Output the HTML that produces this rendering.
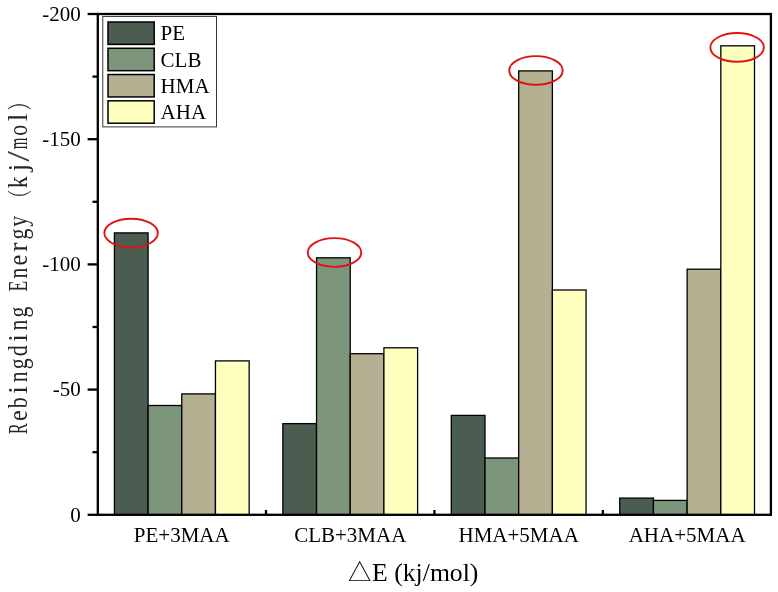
<!DOCTYPE html>
<html lang="en"><head><meta charset="utf-8"><title>Rebinding Energy chart</title>
<style>html,body{margin:0;padding:0;background:#fff}svg{display:block}text{font-family:"Liberation Serif","Noto Serif CJK SC",serif;fill:#000}.t{font-size:21px}.yl{font-size:26.3px;fill:#262626}.sl{font-size:32px;fill:#444}.pw{font-size:25px;font-family:"Noto Serif CJK SC",serif}</style></head><body>
<svg width="778" height="592" viewBox="0 0 778 592">
<rect x="0" y="0" width="778" height="592" fill="#fff"/>
<g stroke="#000" stroke-width="2.3" fill="none">
<line x1="265.98" y1="514.80" x2="265.98" y2="510.00"/>
<line x1="434.43" y1="514.80" x2="434.43" y2="510.00"/>
<line x1="602.88" y1="514.80" x2="602.88" y2="510.00"/>
<line x1="87.60" y1="514.80" x2="97.80" y2="514.80"/>
<line x1="92.50" y1="452.20" x2="97.80" y2="452.20"/>
<line x1="87.60" y1="389.60" x2="97.80" y2="389.60"/>
<line x1="92.50" y1="327.00" x2="97.80" y2="327.00"/>
<line x1="87.60" y1="264.40" x2="97.80" y2="264.40"/>
<line x1="92.50" y1="201.80" x2="97.80" y2="201.80"/>
<line x1="87.60" y1="139.20" x2="97.80" y2="139.20"/>
<line x1="92.50" y1="76.60" x2="97.80" y2="76.60"/>
<line x1="87.60" y1="14.00" x2="97.80" y2="14.00"/>
</g>
<g stroke="#000" stroke-width="1.3">
<rect x="114.40" y="232.90" width="33.69" height="281.90" fill="#4b5d51"/>
<rect x="148.09" y="405.50" width="33.69" height="109.30" fill="#7d957b"/>
<rect x="181.78" y="393.90" width="33.69" height="120.90" fill="#b5b092"/>
<rect x="215.47" y="360.90" width="33.69" height="153.90" fill="#ffffc0"/>
<rect x="282.85" y="423.60" width="33.69" height="91.20" fill="#4b5d51"/>
<rect x="316.54" y="257.80" width="33.69" height="257.00" fill="#7d957b"/>
<rect x="350.23" y="353.70" width="33.69" height="161.10" fill="#b5b092"/>
<rect x="383.92" y="347.80" width="33.69" height="167.00" fill="#ffffc0"/>
<rect x="451.30" y="415.40" width="33.69" height="99.40" fill="#4b5d51"/>
<rect x="484.99" y="458.00" width="33.69" height="56.80" fill="#7d957b"/>
<rect x="518.68" y="70.90" width="33.69" height="443.90" fill="#b5b092"/>
<rect x="552.37" y="290.00" width="33.69" height="224.80" fill="#ffffc0"/>
<rect x="619.75" y="498.10" width="33.69" height="16.70" fill="#4b5d51"/>
<rect x="653.44" y="500.40" width="33.69" height="14.40" fill="#7d957b"/>
<rect x="687.13" y="269.20" width="33.69" height="245.60" fill="#b5b092"/>
<rect x="720.82" y="45.80" width="33.69" height="469.00" fill="#ffffc0"/>
</g>
<rect x="97.80" y="14.00" width="673.10" height="500.80" fill="none" stroke="#000" stroke-width="2.3"/>
<g fill="none" stroke="#e01313" stroke-width="1.9">
<ellipse cx="131.10" cy="233.10" rx="26.75" ry="14.35"/>
<ellipse cx="334.50" cy="252.50" rx="26.75" ry="14.35"/>
<ellipse cx="535.95" cy="70.45" rx="26.75" ry="14.35"/>
<ellipse cx="737.10" cy="47.40" rx="26.75" ry="14.35"/>
</g>
<rect x="102.8" y="16.4" width="113.7" height="110.5" fill="#fff" stroke="#222" stroke-width="0.9"/>
<rect x="108.0" y="22.00" width="46.2" height="22.4" fill="#4b5d51" stroke="#000" stroke-width="1.5"/>
<text class="t" x="160.6" y="40.30">PE</text>
<rect x="108.0" y="48.27" width="46.2" height="22.4" fill="#7d957b" stroke="#000" stroke-width="1.5"/>
<text class="t" x="160.6" y="66.57">CLB</text>
<rect x="108.0" y="74.54" width="46.2" height="22.4" fill="#b5b092" stroke="#000" stroke-width="1.5"/>
<text class="t" x="160.6" y="92.84">HMA</text>
<rect x="108.0" y="100.81" width="46.2" height="22.4" fill="#ffffc0" stroke="#000" stroke-width="1.5"/>
<text class="t" x="160.6" y="119.11">AHA</text>
<text class="t" x="80.8" y="521.60" text-anchor="end">0</text>
<text class="t" x="80.8" y="396.40" text-anchor="end">-50</text>
<text class="t" x="80.8" y="271.20" text-anchor="end">-100</text>
<text class="t" x="80.8" y="146.00" text-anchor="end">-150</text>
<text class="t" x="80.8" y="20.80" text-anchor="end">-200</text>
<text class="t" x="181.78" y="541.8" text-anchor="middle">PE+3MAA</text>
<text class="t" x="350.23" y="541.8" text-anchor="middle">CLB+3MAA</text>
<text class="t" x="518.68" y="541.8" text-anchor="middle">HMA+5MAA</text>
<text class="t" x="687.13" y="541.8" text-anchor="middle">AHA+5MAA</text>
<text x="348.0" y="580.6" style="font-size:25.7px"><tspan style="font-size:23.4px;font-family:'Noto Sans CJK SC','DejaVu Sans',sans-serif">△</tspan><tspan x="372.1">E (kj/mol)</tspan></text>
<text class="yl" transform="rotate(-90)" text-anchor="middle"><tspan x="-428.70" y="27.20" textLength="10.70" lengthAdjust="spacingAndGlyphs">R</tspan><tspan x="-415.73" y="27.20" textLength="10.74" lengthAdjust="spacingAndGlyphs">e</tspan><tspan x="-402.76" y="27.20" textLength="10.91" lengthAdjust="spacingAndGlyphs">b</tspan><tspan x="-389.79" y="27.20" textLength="7.67" lengthAdjust="spacingAndGlyphs">i</tspan><tspan x="-376.82" y="27.20" textLength="10.91" lengthAdjust="spacingAndGlyphs">n</tspan><tspan x="-363.85" y="27.20" textLength="10.91" lengthAdjust="spacingAndGlyphs">g</tspan><tspan x="-350.88" y="27.20" textLength="10.91" lengthAdjust="spacingAndGlyphs">d</tspan><tspan x="-337.91" y="27.20" textLength="7.67" lengthAdjust="spacingAndGlyphs">i</tspan><tspan x="-324.94" y="27.20" textLength="10.91" lengthAdjust="spacingAndGlyphs">n</tspan><tspan x="-311.97" y="27.20" textLength="10.91" lengthAdjust="spacingAndGlyphs">g</tspan><tspan x="-299.00" y="27.20"> </tspan><tspan x="-286.03" y="27.20" textLength="10.76" lengthAdjust="spacingAndGlyphs">E</tspan><tspan x="-273.06" y="27.20" textLength="10.91" lengthAdjust="spacingAndGlyphs">n</tspan><tspan x="-260.09" y="27.20" textLength="10.74" lengthAdjust="spacingAndGlyphs">e</tspan><tspan x="-247.12" y="27.20" textLength="9.20" lengthAdjust="spacingAndGlyphs">r</tspan><tspan x="-234.15" y="27.20" textLength="10.91" lengthAdjust="spacingAndGlyphs">g</tspan><tspan x="-221.18" y="27.20" textLength="10.91" lengthAdjust="spacingAndGlyphs">y</tspan><tspan class="pw" x="-198.52" y="28.6" textLength="18" lengthAdjust="spacingAndGlyphs">（</tspan><tspan x="-182.27" y="27.20" textLength="11.84" lengthAdjust="spacingAndGlyphs">k</tspan><tspan x="-167.80" y="27.20" textLength="7.67" lengthAdjust="spacingAndGlyphs">j</tspan><tspan class="sl" x="-156.33" y="28.8" textLength="10.67" lengthAdjust="spacingAndGlyphs">/</tspan><tspan x="-143.36" y="27.20" textLength="11.66" lengthAdjust="spacingAndGlyphs">m</tspan><tspan x="-130.39" y="27.20" textLength="10.91" lengthAdjust="spacingAndGlyphs">o</tspan><tspan x="-117.42" y="27.20" textLength="7.67" lengthAdjust="spacingAndGlyphs">l</tspan><tspan class="pw" x="-101.46" y="28.6" textLength="18" lengthAdjust="spacingAndGlyphs">）</tspan></text>
</svg></body></html>
